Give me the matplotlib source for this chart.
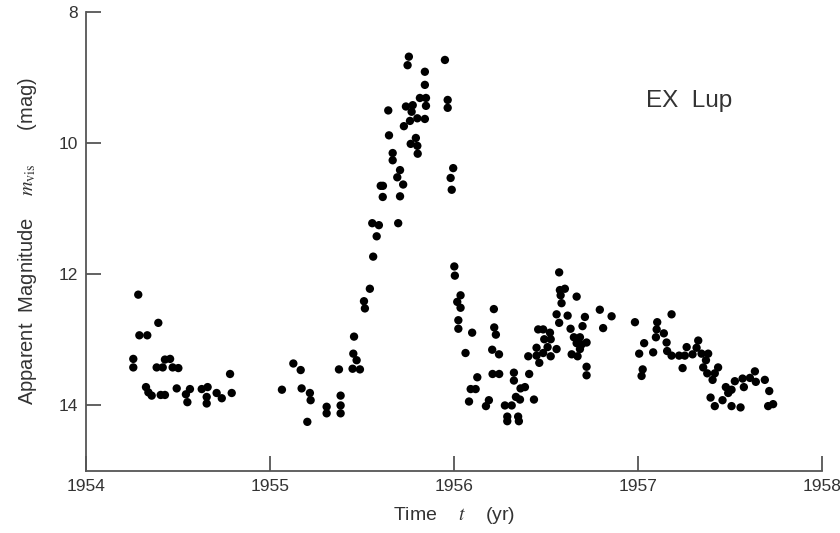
import matplotlib
matplotlib.use("Agg")
import matplotlib.pyplot as plt

plt.rcParams['font.family'] = ['Liberation Sans', 'DejaVu Sans']
plt.rcParams['mathtext.fontset'] = 'stix'

# EX Lup visual light curve (time in yr, visual magnitude)
t_1954 = [1954.284, 1954.393, 1954.290, 1954.333, 1954.257, 1954.257, 1954.384, 1954.417,
          1954.429, 1954.457, 1954.471, 1954.502, 1954.783, 1954.326, 1954.339, 1954.357,
          1954.406, 1954.429, 1954.493, 1954.565, 1954.543, 1954.551, 1954.629, 1954.661,
          1954.656, 1954.656, 1954.710, 1954.738, 1954.792]
m_1954 = [12.31, 12.74, 12.93, 12.93, 13.29, 13.42, 13.42, 13.42,
          13.30, 13.29, 13.42, 13.43, 13.52, 13.72, 13.80, 13.85,
          13.84, 13.84, 13.74, 13.75, 13.83, 13.95, 13.75, 13.72,
          13.87, 13.97, 13.81, 13.89, 13.81]

t_1955 = [1955.543, 1955.511, 1955.516, 1955.457, 1955.453, 1955.471, 1955.449, 1955.489,
          1955.375, 1955.127, 1955.167, 1955.065, 1955.172, 1955.217, 1955.221, 1955.308,
          1955.308, 1955.384, 1955.384, 1955.384, 1955.203]
m_1955 = [12.22, 12.41, 12.52, 12.95, 13.21, 13.31, 13.44, 13.45,
          13.45, 13.36, 13.46, 13.76, 13.74, 13.81, 13.92, 14.02,
          14.12, 13.85, 14.00, 14.12, 14.25]

# outburst
t_burst = [1955.755, 1955.748, 1955.951, 1955.842, 1955.842, 1955.815, 1955.848, 1955.848,
           1955.739, 1955.776, 1955.770, 1955.643, 1955.801, 1955.842, 1955.761, 1955.728,
           1955.966, 1955.966, 1955.647, 1955.793, 1955.765, 1955.801, 1955.803, 1955.667,
           1955.667, 1955.707, 1955.692, 1955.724, 1955.707, 1955.602, 1955.614, 1955.613,
           1955.996, 1955.982, 1955.988, 1955.556, 1955.592, 1955.580, 1955.697, 1955.561,
           1956.002, 1956.005]
m_burst = [8.68, 8.81, 8.73, 8.91, 9.11, 9.31, 9.31, 9.43,
           9.44, 9.42, 9.52, 9.50, 9.62, 9.63, 9.66, 9.74,
           9.34, 9.46, 9.88, 9.92, 10.01, 10.04, 10.16, 10.15,
           10.26, 10.41, 10.52, 10.63, 10.81, 10.65, 10.65, 10.82,
           10.38, 10.53, 10.71, 11.22, 11.25, 11.42, 11.22, 11.73,
           11.88, 12.02]

t_1956 = [1956.036, 1956.018, 1956.036, 1956.024, 1956.024, 1956.099, 1956.063, 1956.217,
          1956.219, 1956.228, 1956.208, 1956.245, 1956.127, 1956.091, 1956.118, 1956.082,
          1956.190, 1956.174, 1956.210, 1956.246, 1956.277, 1956.314, 1956.290, 1956.290,
          1956.349, 1956.353, 1956.326, 1956.326, 1956.362, 1956.386, 1956.337, 1956.359,
          1956.435, 1956.409, 1956.404, 1956.449, 1956.464, 1956.449, 1956.485, 1956.526,
          1956.558, 1956.509, 1956.458, 1956.485, 1956.491, 1956.526, 1956.522, 1956.572,
          1956.576, 1956.603, 1956.580, 1956.585, 1956.667, 1956.558, 1956.572, 1956.618,
          1956.634, 1956.699, 1956.712, 1956.652, 1956.685, 1956.667, 1956.694, 1956.721,
          1956.640, 1956.672, 1956.685, 1956.721, 1956.721, 1956.793, 1956.857, 1956.811,
          1956.984]
m_1956 = [12.32, 12.42, 12.51, 12.70, 12.83, 12.89, 13.20, 12.53,
          12.81, 12.92, 13.15, 13.22, 13.57, 13.75, 13.75, 13.94,
          13.92, 14.01, 13.52, 13.52, 14.00, 14.00, 14.17, 14.24,
          14.17, 14.24, 13.50, 13.62, 13.74, 13.72, 13.87, 13.91,
          13.91, 13.52, 13.25, 13.12, 13.35, 13.24, 13.20, 13.25,
          13.14, 13.11, 12.84, 12.84, 12.99, 12.99, 12.89, 11.97,
          12.24, 12.22, 12.32, 12.44, 12.34, 12.61, 12.74, 12.63,
          12.83, 12.79, 12.65, 12.96, 12.96, 13.05, 13.07, 13.04,
          13.22, 13.25, 13.14, 13.41, 13.54, 12.54, 12.64, 12.82,
          12.73]

t_1957 = [1957.105, 1957.102, 1957.098, 1957.141, 1957.156, 1957.183, 1957.034, 1957.007,
          1957.083, 1957.026, 1957.020, 1957.159, 1957.183, 1957.224, 1957.255, 1957.265,
          1957.297, 1957.243, 1957.319, 1957.328, 1957.346, 1957.382, 1957.370, 1957.355,
          1957.377, 1957.406, 1957.418, 1957.436, 1957.478, 1957.491, 1957.509, 1957.527,
          1957.569, 1957.576, 1957.395, 1957.418, 1957.460, 1957.509, 1957.558, 1957.609,
          1957.636, 1957.641, 1957.690, 1957.714, 1957.708, 1957.735]
m_1957 = [12.73, 12.84, 12.96, 12.90, 13.04, 12.61, 13.05, 13.21,
          13.19, 13.45, 13.55, 13.17, 13.24, 13.24, 13.24, 13.11,
          13.22, 13.43, 13.12, 13.01, 13.21, 13.21, 13.31, 13.42,
          13.51, 13.61, 13.51, 13.42, 13.72, 13.81, 13.76, 13.63,
          13.59, 13.72, 13.88, 14.01, 13.92, 14.01, 14.03, 13.58,
          13.48, 13.64, 13.61, 13.78, 14.01, 13.98]

t_all = t_1954 + t_1955 + t_burst + t_1956 + t_1957
m_all = m_1954 + m_1955 + m_burst + m_1956 + m_1957

fig = plt.figure(figsize=(8.4, 5.33), dpi=100)
ax = fig.add_axes([0.1024, 0.1163, 0.876, 0.861])

ax.scatter(t_all, m_all, s=36, color='black', edgecolors='none', zorder=3)

ax.set_xlim(1954, 1958)
ax.set_ylim(15, 8)
ax.set_xticks([1954, 1955, 1956, 1957, 1958])
ax.set_yticks([8, 10, 12, 14])

for side in ['top', 'right']:
    ax.spines[side].set_visible(False)
for side in ['left', 'bottom']:
    ax.spines[side].set_color('#555555')
    ax.spines[side].set_linewidth(1.3)

ax.tick_params(direction='in', length=11, width=1.3, color='#555555',
               labelsize=12.5, labelcolor='#333333', pad=6)

ax.set_xlabel(r'Time    $t$    (yr)', fontsize=14, color='#333333', labelpad=8)
ax.set_ylabel(r'Apparent  Magnitude    $m_{\mathrm{vis}}$      (mag)', fontsize=14.5,
              color='#333333', labelpad=14)

ax.text(1957.045, 9.35, 'EX  Lup', fontsize=17.5, color='#333333', va='center')

fig.savefig('out.png', dpi=100)
